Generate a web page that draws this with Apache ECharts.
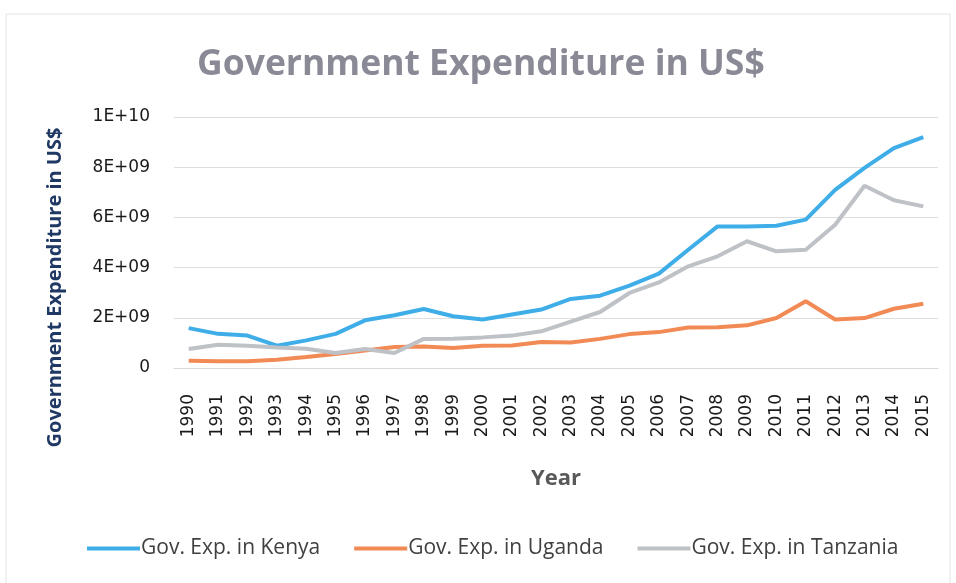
<!DOCTYPE html>
<html>
<head>
<meta charset="utf-8">
<title>Government Expenditure in US$</title>
<script src="https://cdn.jsdelivr.net/npm/echarts@6/dist/echarts.min.js"></script>
<style>
  html, body { margin: 0; padding: 0; background: #fff; }
  #main { width: 956px; height: 583px; }
</style>
</head>
<body>
<div id="main"></div>
<script>
// 年份
var years = ['1990', '1991', '1992', '1993', '1994', '1995', '1996', '1997', '1998', '1999',
  '2000', '2001', '2002', '2003', '2004', '2005', '2006', '2007', '2008', '2009',
  '2010', '2011', '2012', '2013', '2014', '2015'];

// 支出 (US$)
var kenya = [1.59e9, 1.36e9, 1.29e9, 0.89e9, 1.10e9, 1.36e9, 1.90e9, 2.10e9, 2.35e9, 2.06e9,
  1.93e9, 2.13e9, 2.33e9, 2.75e9, 2.88e9, 3.28e9, 3.76e9, 4.71e9, 5.64e9, 5.64e9,
  5.67e9, 5.91e9, 7.10e9, 7.97e9, 8.76e9, 9.20e9];
var uganda = [0.29e9, 0.27e9, 0.27e9, 0.33e9, 0.44e9, 0.56e9, 0.70e9, 0.84e9, 0.86e9, 0.80e9,
  0.89e9, 0.90e9, 1.04e9, 1.02e9, 1.16e9, 1.35e9, 1.43e9, 1.61e9, 1.62e9, 1.70e9,
  1.99e9, 2.66e9, 1.93e9, 1.99e9, 2.36e9, 2.56e9];
var tanzania = [0.76e9, 0.93e9, 0.89e9, 0.82e9, 0.77e9, 0.60e9, 0.76e9, 0.60e9, 1.16e9, 1.17e9,
  1.22e9, 1.29e9, 1.46e9, 1.85e9, 2.23e9, 2.99e9, 3.41e9, 4.05e9, 4.45e9, 5.05e9,
  4.65e9, 4.71e9, 5.71e9, 7.26e9, 6.68e9, 6.44e9];

var seriesNames = ['Gov. Exp. in Kenya', 'Gov. Exp. in Uganda', 'Gov. Exp. in Tanzania'];
var colors = ['#3FAEE8', '#F28A55', '#BEC1C6'];

// 1E+10 style labels
function sciLabel(v) {
  if (v === 0) return '0';
  var exp = Math.floor(Math.log10(v));
  var mant = Math.round(v / Math.pow(10, exp));
  return mant + 'E+' + (exp < 10 ? '0' + exp : exp);
}

var chart = echarts.init(document.getElementById('main'), null, { renderer: 'canvas' });

var option = {
  backgroundColor: '#fff',
  color: colors,
  title: {
    text: 'Government Expenditure in US$',
    left: 192,
    top: 42,
    textStyle: {
      fontFamily: 'Open Sans',
      fontSize: 35.5,
      fontWeight: 'bold',
      color: '#8a8a96'
    }
  },
  graphic: [{
    type: 'rect',
    shape: { x: 6, y: 14, width: 944, height: 620 },
    style: { fill: 'none', stroke: '#e3e3e3', lineWidth: 1 },
    silent: true
  }],
  legend: {
    data: seriesNames,
    left: 87,
    top: 538,
    padding: 0,
    icon: 'rect',
    itemWidth: 53,
    itemHeight: 4,
    itemGap: 34,
    textStyle: {
      fontFamily: 'Open Sans',
      fontSize: 21,
      color: '#404040',
      padding: [0, 0, 0, -4]
    }
  },
  grid: {
    left: 174,
    right: 18,
    top: 117,
    bottom: 215
  },
  xAxis: {
    type: 'category',
    data: years,
    boundaryGap: true,
    name: 'Year',
    nameLocation: 'middle',
    nameGap: 100,
    nameTextStyle: {
      fontFamily: 'Open Sans',
      fontSize: 22,
      fontWeight: 'bold',
      color: '#595959'
    },
    axisLine: { lineStyle: { color: '#d9d9d9', width: 1 } },
    axisTick: { show: false },
    axisLabel: {
      interval: 0,
      rotate: 90,
      margin: 26,
      fontFamily: 'DejaVu Sans',
      fontSize: 17,
      color: '#1a1a1a'
    }
  },
  yAxis: {
    type: 'value',
    min: 0,
    max: 1e10,
    interval: 2e9,
    name: 'Government Expenditure in US$',
    nameLocation: 'middle',
    nameGap: 109,
    nameTextStyle: {
      fontFamily: 'Open Sans',
      fontSize: 20,
      fontWeight: 'bold',
      color: '#1f3864',
      padding: [0, 90, 0, 0]
    },
    axisLine: { show: false },
    axisTick: { show: false },
    axisLabel: {
      margin: 24,
      fontFamily: 'DejaVu Sans',
      fontSize: 17,
      color: '#1a1a1a',
      formatter: sciLabel
    },
    splitLine: { lineStyle: { color: '#dedede', width: 1 } }
  },
  series: [
    {
      name: seriesNames[0],
      type: 'line',
      data: kenya,
      symbol: 'none',
      lineStyle: { width: 4, color: colors[0] }
    },
    {
      name: seriesNames[1],
      type: 'line',
      data: uganda,
      symbol: 'none',
      lineStyle: { width: 4, color: colors[1] }
    },
    {
      name: seriesNames[2],
      type: 'line',
      data: tanzania,
      symbol: 'none',
      lineStyle: { width: 4, color: colors[2] }
    }
  ]
};

chart.setOption(option);
</script>
</body>
</html>
